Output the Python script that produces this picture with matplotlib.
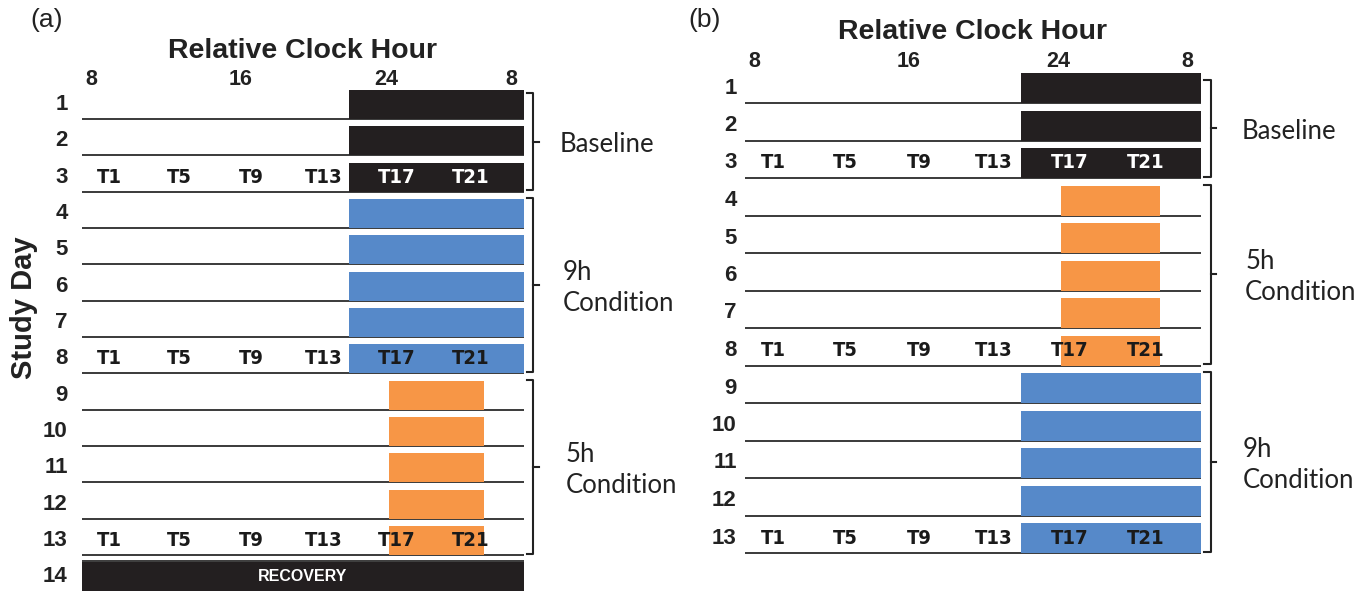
import matplotlib.pyplot as plt
from matplotlib.transforms import blended_transform_factory

W, H = 1371, 591
BLACK = '#231f20'
BLUE = '#5689c9'
ORANGE = '#f79646'
LINE = '#3a3a3a'

# clock hours across each row (left edge .. right edge)
x_start, x_end = 7.5, 31.5
hour_ticks = [8, 16.1, 24, 30.8]
hour_labels = ['8', '16', '24', '8']
test_pos = [9.0, 12.8, 16.7, 20.6, 24.6, 28.6]
test_labels = ['T1', 'T5', 'T9', 'T13', 'T17', 'T21']

# sleep windows (clock hours)
sleep_base = (22.0, 31.5)
sleep_9h = (22.0, 31.5)
sleep_5h = (24.15, 29.35)

# study days per condition
days_a = {'Baseline': [1, 2, 3], '9h\nCondition': [4, 5, 6, 7, 8], '5h\nCondition': [9, 10, 11, 12, 13]}
days_b = {'Baseline': [1, 2, 3], '5h\nCondition': [4, 5, 6, 7, 8], '9h\nCondition': [9, 10, 11, 12, 13]}
test_days = [3, 8, 13]
recovery_day = 14

bold_sans = ['Liberation Sans', 'DejaVu Sans']
light = ['Lato', 'Open Sans', 'DejaVu Sans']

fig = plt.figure(figsize=(W / 100, H / 100), dpi=100)


def px_axes(x0, y0, x1, y1):
    return fig.add_axes([x0 / W, 1 - y1 / H, (x1 - x0) / W, (y1 - y0) / H])


def draw_panel(ax, groups, colors, ymax, lab_x, brk, txt_x, title_y, hour_y, top_inset):
    ax.set_xlim(x_start, x_end)
    ax.set_ylim(ymax, 0)
    ax.axis('off')
    tr = blended_transform_factory(ax.transAxes, ax.transData)
    bh = 0.8
    for k, ((name, days), (c, (s0, s1))) in enumerate(zip(groups.items(), colors)):
        for d in days:
            ax.plot([x_start, x_end], [d, d], color=LINE, lw=1.4, zorder=1)
            ax.barh(d - bh / 2, s1 - s0, left=s0, height=bh, color=c, zorder=2)
            ax.text(lab_x, d - bh / 2, str(d), transform=tr, ha='right', va='center',
                    fontsize=16, fontweight='bold', family=bold_sans, color='#222222')
            if d in test_days:
                for tp, tl in zip(test_pos, test_labels):
                    tc = 'white' if (c == BLACK and s0 <= tp <= s1) else '#1a1a1a'
                    ax.text(tp, d - bh / 2, tl, ha='center', va='center', fontsize=14.5,
                            fontweight='bold', family='DejaVu Sans', fontstretch='condensed',
                            color=tc, zorder=3)
        # bracket
        y0, y1 = days[0] - bh - 0.02 + top_inset[k], days[-1] - 0.04
        xb, xh, xm = brk
        ax.plot([xh, xb, xb, xh], [y0, y0, y1, y1], transform=tr, color='#222222',
                lw=1.5, clip_on=False)
        ym = (y0 + y1) / 2
        ax.plot([xb, xm], [ym, ym], transform=tr, color='#222222', lw=1.5, clip_on=False)
        ax.text(txt_x[name], ym + 0.08, name, transform=tr, ha='left', va='center',
                fontsize=18.5, family=light, color='#222222', linespacing=1.3)
    for hx, hl in zip(hour_ticks, hour_labels):
        ax.text(hx, hour_y, hl, ha='center', va='center', fontsize=15.5,
                fontweight='bold', family=bold_sans, color='#222222')
    ax.text(0.5, title_y, 'Relative Clock Hour', transform=tr, ha='center', va='center',
            fontsize=20.5, fontweight='bold', family=bold_sans, color='#222222')


# panel (a)
ax_a = px_axes(82, 82.65, 524, 591.5)
draw_panel(ax_a, days_a,
           [(BLACK, sleep_base), (BLUE, sleep_9h), (ORANGE, sleep_5h)],
           14, -0.032, (1.02, 1.007, 1.033),
           {'Baseline': 1.081, '9h\nCondition': 1.088, '5h\nCondition': 1.095},
           -0.88, -0.1, [0.1, 0, 0])
ax_a.plot([x_start, x_end], [13.15, 13.15], color=LINE, lw=1.4, zorder=1)
ax_a.barh(recovery_day - 0.4, x_end - x_start, left=x_start, height=0.8, color=BLACK, zorder=2)
ax_a.text((x_start + x_end) / 2, recovery_day - 0.4, 'RECOVERY', ha='center', va='center',
          fontsize=11.5, fontweight='bold', family=bold_sans, color='white', zorder=3)
ax_a.text(-0.032, recovery_day - 0.4, str(recovery_day),
          transform=blended_transform_factory(ax_a.transAxes, ax_a.transData),
          ha='right', va='center', fontsize=16, fontweight='bold', family=bold_sans,
          color='#222222')

# panel (b)
ax_b = px_axes(745, 65.5, 1201, 571.75)
draw_panel(ax_b, days_b,
           [(BLACK, sleep_base), (ORANGE, sleep_5h), (BLUE, sleep_9h)],
           13.5, -0.018, (1.022, 1.006, 1.033),
           {'Baseline': 1.09, '5h\nCondition': 1.097, '9h\nCondition': 1.092},
           -0.9, -0.1, [0.2, 0, 0])

fig.text(47 / W, 1 - 20 / H, '(a)', ha='center', va='center', fontsize=19,
         family=['Liberation Sans', 'DejaVu Sans'], color='#222222')
fig.text(705 / W, 1 - 20 / H, '(b)', ha='center', va='center', fontsize=19,
         family=['Liberation Sans', 'DejaVu Sans'], color='#222222')
fig.text(24 / W, 1 - 308 / H, 'Study Day', rotation=90, ha='center', va='center',
         fontsize=21, fontweight='bold', family=bold_sans, color='#222222')

fig.savefig('out.png', dpi=100)
